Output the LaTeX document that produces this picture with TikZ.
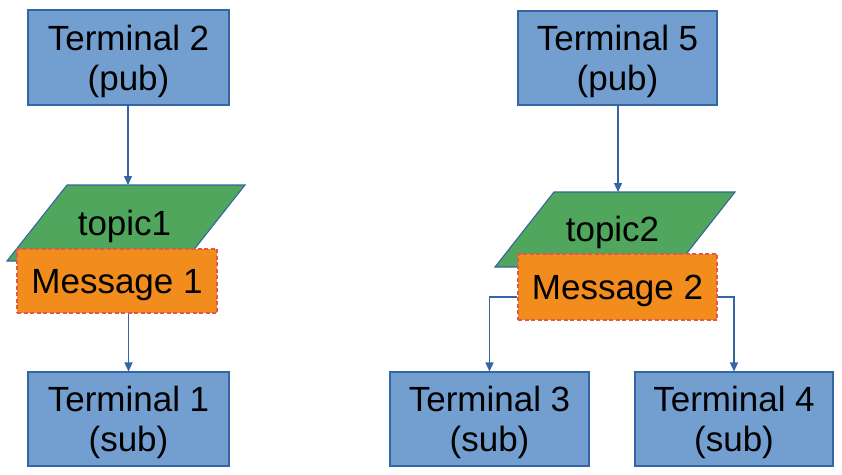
\documentclass[tikz,border=0pt]{standalone}
\usepackage{fontspec}
\setmainfont{Liberation Sans}
\usetikzlibrary{arrows.meta,calc}
\definecolor{termfill}{HTML}{729FCF}
\definecolor{termline}{HTML}{3465A4}
\definecolor{topicfill}{HTML}{50A65C}
\definecolor{msgfill}{HTML}{F28C1C}
\definecolor{msgline}{HTML}{E0584A}
\newcommand\twol[2]{\begin{tabular}[b]{@{}c@{}}#1\\#2\end{tabular}}
\begin{document}
\begin{tikzpicture}[x=1pt,y=-1pt,
  font=\fontsize{35}{40}\selectfont,
  term/.style={draw=termline, fill=termfill, line width=1.1pt, inner sep=0pt, text height=65pt, text depth=0pt},
  msg/.style={draw=msgline, fill=msgfill, line width=1.2pt, dashed, dash pattern=on 4pt off 2.5pt, inner sep=0pt, text height=25pt, text depth=0pt},
  topic/.style={draw=termline, fill=topicfill, line width=1.1pt},
  conn/.style={draw=termline, line width=1.4pt, -{Triangle[length=9pt,width=8pt]}}]
\useasboundingbox (0,0) rectangle (842,474);
% left column
\node[term, minimum width=201pt, minimum height=95pt] (t2) at (128.5,57.5) {\twol{Terminal 2}{(pub)}};
\path[topic] (67,185) -- (245,185) -- (185,261) -- (7,261) -- cycle;
\coordinate (p1top) at (128,185);
\node[anchor=base, inner sep=0pt] (topic1) at (124.5,235) {topic1};
\node[msg, minimum width=200pt, minimum height=64pt] (m1) at (117,281) {Message 1};
\node[term, minimum width=201pt, minimum height=94pt] (t1) at (128.5,419) {\twol{Terminal 1}{(sub)}};
\draw[conn] (t2.south -| p1top) -- (p1top);
\draw[conn] (m1.south -| t1.north) -- (t1.north);
% right column
\node[term, minimum width=199pt, minimum height=94pt] (t5) at (617.5,58) {\twol{Terminal 5}{(pub)}};
\path[topic] (554,192) -- (735,192) -- (676,267) -- (495,267) -- cycle;
\coordinate (p2top) at (618,192);
\node[anchor=base, inner sep=0pt] (topic2) at (612.5,241) {topic2};
\node[msg, minimum width=199pt, minimum height=66pt] (m2) at (617.5,287) {Message 2};
\node[term, minimum width=199pt, minimum height=94pt] (t3) at (489.5,419) {\twol{Terminal 3}{(sub)}};
\node[term, minimum width=198pt, minimum height=94pt] (t4) at (734,419) {\twol{Terminal 4}{(sub)}};
\draw[conn] (t5.south -| p2top) -- (p2top);
\draw[conn] ($(m2.west)+(0,10)$) -| (t3.north);
\draw[conn] ($(m2.east)+(0,10)$) -| (t4.north);
\end{tikzpicture}
\end{document}
